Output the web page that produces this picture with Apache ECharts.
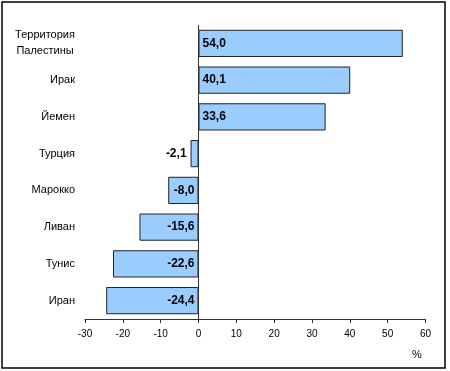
<!DOCTYPE html>
<html><head><meta charset="utf-8">
<script src="https://cdn.jsdelivr.net/npm/echarts@6/dist/echarts.min.js"></script>
<style>html,body{margin:0;padding:0;background:#fff}#c{width:450px;height:371px}</style>
</head><body><div id="c"></div>
<script>
const categories = ['Территория\nПалестины', 'Ирак', 'Йемен', 'Турция', 'Марокко', 'Ливан', 'Тунис', 'Иран'];
const values = [54.0, 40.1, 33.6, -2.1, -8.0, -15.6, -22.6, -24.4];
const xTicks = { min: -30, max: 60, interval: 10 };
const unitLabel = '%';

const chart = echarts.init(document.getElementById('c'), null, { renderer: 'canvas' });
const fontFam = 'Liberation Sans, Arial, sans-serif';
chart.setOption({
  animation: false,
  backgroundColor: '#fff',
  grid: { left: 85, right: 24.5, top: 25, bottom: 52, containLabel: false },
  xAxis: {
    type: 'value', min: xTicks.min, max: xTicks.max, interval: xTicks.interval,
    axisLine: { show: true, onZero: false, lineStyle: { color: '#333', width: 1 } },
    axisTick: { show: true, length: 4, lineStyle: { color: '#333' } },
    splitLine: { show: false },
    axisLabel: { color: '#000', fontFamily: fontFam, fontSize: 10, margin: 10 }
  },
  yAxis: {
    type: 'category', data: categories, inverse: true,
    axisLine: { show: false, onZero: false }, axisTick: { show: false },
    axisLabel: {
      color: '#000', fontFamily: fontFam, fontSize: 11, margin: 10, lineHeight: 16,
      formatter: v => v.indexOf('\n') >= 0 ? v.split('\n').map(s => '{c|' + s + '}').join('\n') : v,
      rich: { c: { width: 60, align: 'center', fontSize: 11, fontFamily: fontFam, color: '#000', lineHeight: 16 } }
    }
  },
  series: [{
    type: 'bar', barCategoryGap: '26%',
    data: values.map(v => ({
      value: v,
      label: { position: v >= 0 ? 'insideLeft' : (v > -4 ? 'left' : 'insideRight') }
    })),
    itemStyle: { color: '#99CCFF', borderColor: '#222', borderWidth: 1 },
    label: {
      show: true, color: '#000', fontFamily: fontFam, fontSize: 12, fontWeight: 'bold',
      distance: 4,
      formatter: p => p.value.toFixed(1).replace('.', ',')
    },
    markLine: {
      silent: true, symbol: 'none', animation: false,
      label: { show: false },
      lineStyle: { color: '#333', width: 1, type: 'solid' },
      data: [{ xAxis: 0 }]
    }
  }],
  graphic: [
    { type: 'rect', shape: { x: 2, y: 2, width: 443, height: 366 }, style: { fill: 'none', stroke: '#000', lineWidth: 1.5 }, silent: true },
    { type: 'text', left: 412, top: 349, style: { text: unitLabel, fill: '#000', font: '11px ' + fontFam } }
  ]
});
</script></body></html>
